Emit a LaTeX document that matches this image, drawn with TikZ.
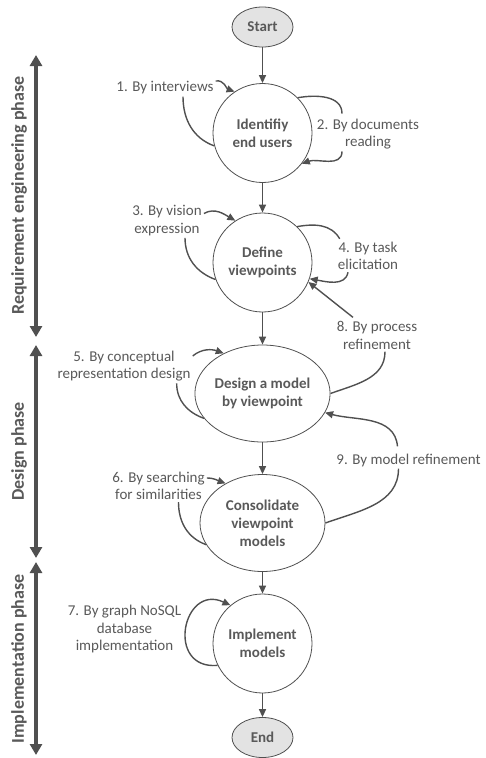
\documentclass[tikz,border=0pt]{standalone}
\usepackage{fontspec}
\setmainfont{Carlito}
\usetikzlibrary{shapes.geometric,arrows.meta}
\definecolor{txtgray}{HTML}{595959}
\definecolor{linegray}{HTML}{505050}
\definecolor{fillgray}{HTML}{E3E3E3}

\begin{document}
\begin{tikzpicture}[x=1pt,y=1pt,
every node/.style={text=txtgray},
terminal/.style={ellipse,draw=linegray,fill=fillgray,line width=0.8pt,
  minimum width=61pt,minimum height=40pt,inner sep=0pt,
  font=\fontsize{15}{18}\selectfont\bfseries},
activity/.style={circle,draw=linegray,line width=0.8pt,minimum size=99pt,
  inner sep=0pt,align=center,font=\fontsize{15}{18}\selectfont\bfseries},
wideactivity/.style={activity,ellipse,minimum width=125pt,minimum height=97pt},
lbl/.style={align=center,inner sep=2pt,font=\fontsize{15}{17.5}\selectfont},
phaselbl/.style={rotate=90,font=\fontsize{18}{20}\selectfont\bfseries},
flow/.style={draw=linegray,line width=1.4pt,-{Triangle[length=8pt,width=7pt]}},
loopline/.style={draw=linegray,line width=1.4pt},
looparrow/.style={loopline,-{Triangle[length=8pt,width=7pt]}},
phase/.style={draw=linegray,line width=3.5pt,
  {Triangle[length=11pt,width=12pt]}-{Triangle[length=11pt,width=12pt]}},
]
\useasboundingbox (0,0) rectangle (485,-758);

% main flow
\node[terminal] (start) at (262.5,-27) {Start};
\node[activity] (ident) at (262.5,-133) {Identifiy\\end users};
\node[activity] (define) at (262.5,-262.5) {Define\\viewpoints};
\node[wideactivity] (design) at (262.5,-393.5) {Design a model\\by viewpoint};
\node[wideactivity] (consol) at (262.5,-523) {Consolidate\\viewpoint\\models};
\node[activity] (impl) at (262.5,-643.5) {Implement\\models};
\node[terminal] (stop) at (262.5,-737.5) {End};

\draw[flow] (start) -- (ident);
\draw[flow] (ident) -- (define);
\draw[flow] (define) -- (design);
\draw[flow] (design) -- (consol);
\draw[flow] (consol) -- (impl);
\draw[flow] (impl) -- (stop);

% labels of the loops
\node[lbl] (l1) at (165,-88) {1. By interviews};
\node[lbl] (l2) at (368,-134) {2. By documents\\reading};
\node[lbl] (l3) at (167,-220.5) {3. By vision\\expression};
\node[lbl] (l4) at (368,-256) {4. By task\\elicitation};
\node[lbl] (l8) at (377,-335.5) {8. By process\\refinement};
\node[lbl] (l5) at (124,-366) {5. By conceptual\\representation design};
\node[lbl] (l9) at (408.5,-460) {9. By model refinement};
\node[lbl] (l6) at (158.5,-486) {6. By searching\\for similarities};
\node[lbl] (l7) at (124.5,-629) {7. By graph NoSQL\\database\\implementation};

% loops
\draw[loopline] (ident.195) to[out=160,in=-90] ([xshift=18pt]l1.south);
\draw[looparrow] ([yshift=7pt]l1.east) to[out=10,in=160] (ident.124);
\draw[loopline] (ident.45) to[out=10,in=90] ([xshift=-26pt,yshift=3pt]l2.north);
\draw[looparrow] ([xshift=-26pt]l2.south) to[out=-90,in=20] (ident.-38);

\draw[looparrow] ([yshift=7pt]l3.east) to[out=30,in=150] (define.123);
\draw[loopline] (define.200) to[out=160,in=-90] ([xshift=18pt]l3.south);
\draw[loopline] (define.46) to[out=10,in=120] ([xshift=4pt,yshift=1pt]l4.north west);
\draw[looparrow] ([xshift=-20pt]l4.south) to[out=-100,in=-10] (define.-19);
\draw[looparrow] ([xshift=-24pt,yshift=2pt]l8.north) -- (define.-23);
\draw[loopline] (design.east) to[out=20,in=-90] ([xshift=8pt]l8.south);

\draw[looparrow] ([yshift=10pt]l5.east) to[out=40,in=160] (design.134);
\draw[loopline] (design.203) to[out=160,in=-90] ([xshift=-16pt]l5.south east);
\draw[looparrow] ([xshift=-11pt,yshift=5pt]l9.north) to[out=95,in=-15] (design.-17);
\draw[loopline] (consol.east) to[out=20,in=-90] ([xshift=-10pt]l9.south);

\draw[looparrow] ([yshift=8pt]l6.east) to[out=0,in=160] (consol.133);
\draw[loopline] (consol.201) to[out=160,in=-90] ([xshift=20pt]l6.south);

\draw[looparrow] (impl.206) to[out=185,in=155,looseness=2.2] (impl.130);

% phases
\coordinate (req top) at (36,-55);
\coordinate (req bot) at (36,-337);
\coordinate (des top) at (36,-345);
\coordinate (des bot) at (36,-558);
\coordinate (imp top) at (36,-562);
\coordinate (imp bot) at (36,-755);
\draw[phase] (req top) -- (req bot);
\draw[phase] (des top) -- (des bot);
\draw[phase] (imp top) -- (imp bot);
\node[phaselbl] (reqlbl) at (19,-195.5) {Requirement engineering phase};
\node[phaselbl] (deslbl) at (19,-451.5) {Design phase};
\node[phaselbl] (implbl) at (19,-659) {Implementation phase};
\end{tikzpicture}
\end{document}
